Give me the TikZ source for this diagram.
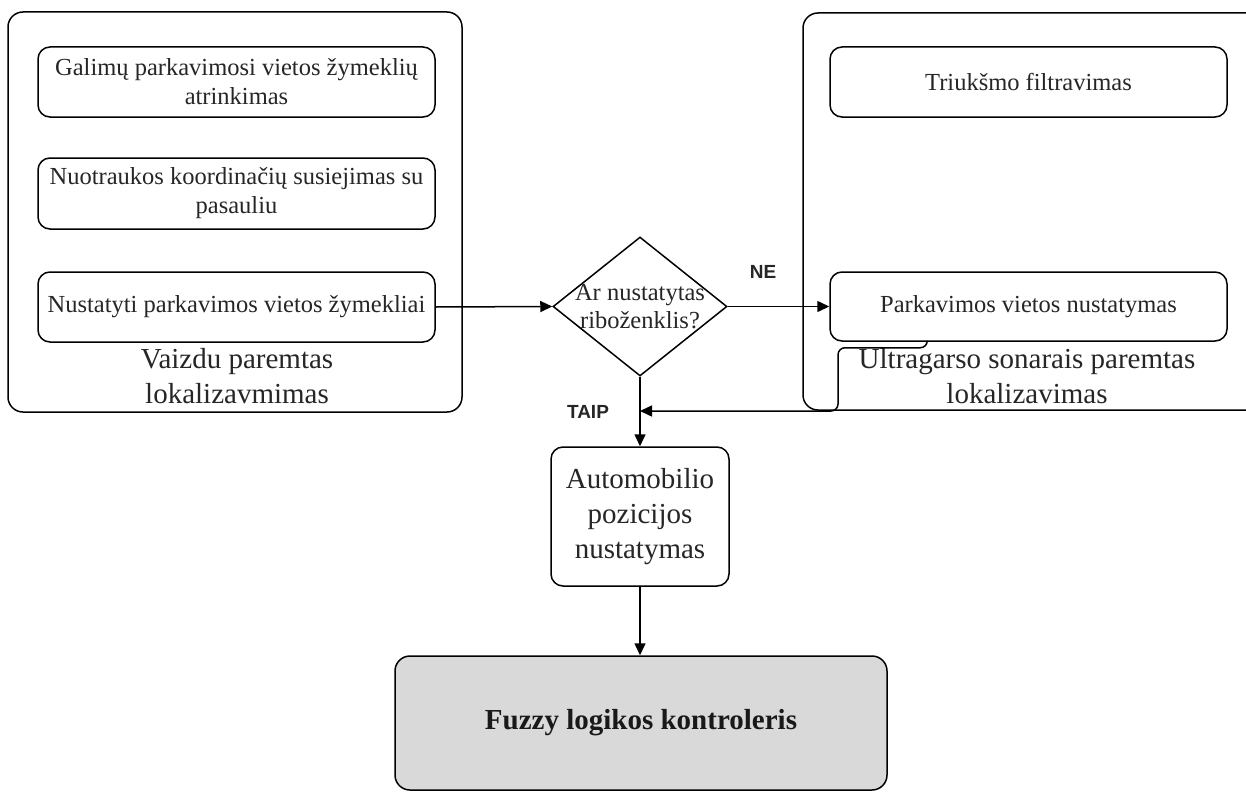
\documentclass[tikz,border=0pt]{standalone}
\usepackage{fontspec}
\setmainfont{Liberation Serif}
\newfontfamily\labfont{Liberation Sans}
\usetikzlibrary{shapes.geometric,arrows.meta,calc}
\definecolor{txt}{HTML}{262626}
\definecolor{fuzzyfill}{HTML}{D9D9D9}
\tikzset{
  box/.style={draw=black, line width=1.5pt, rounded corners=12pt, minimum width=397pt, inner sep=0pt, align=center, text=txt, font=\fontsize{24.5}{29}\selectfont},
  bigtxt/.style={align=center, text=txt, inner sep=0pt, font=\fontsize{29}{35}\selectfont},
  container/.style={draw=black, line width=1.5pt, rounded corners=15pt},
  yn/.style={inner sep=0pt, text=txt, font=\labfont\bfseries\fontsize{19}{23}\selectfont},
  conn/.style={draw=black, line width=1.5pt, -{Triangle[length=12pt,width=11pt]}},
}
\begin{document}
\begin{tikzpicture}[x=1pt,y=-1pt]
\fill[white] (0,0) rectangle (1246,792);
\clip (0,0) rectangle (1246,792);
% containers
\draw[container] (8,12) rectangle (462,412);
\draw[container] (803,13) rectangle (1300,410);
% left boxes
\node[box, minimum height=70pt] (b1) at (236.5,82) {Galimų parkavimosi vietos žymeklių\\atrinkimas};
\node[box, minimum height=71pt] (b2) at (236.5,193.5) {Nuotraukos koordinačių susiejimas su\\pasauliu};
\node[box, minimum height=70pt] (b3) at (236.5,307) {Nustatyti parkavimos vietos žymekliai};
\node[bigtxt] (lv) at (237,376) {Vaizdu paremtas\\lokalizavmimas};
% right boxes
\node[box, minimum height=70pt] (r1) at (1028.5,82) {Triukšmo filtravimas};
\node[box, minimum height=69pt] (r2) at (1028.5,306.5) {Parkavimos vietos nustatymas};
\node[bigtxt] (lu) at (1027,376) {Ultragarso sonarais paremtas\\lokalizavimas};
% decision
\node[diamond, draw=black, line width=1.5pt, minimum width=174pt, minimum height=139pt, inner sep=0pt] (d) at (640,306.5) {};
\node[align=center, text=txt, inner sep=0pt, font=\fontsize{24.5}{28}\selectfont] (dt) at (d.center) {Ar nustatytas\\riboženklis?};
% car position
\node[draw=black, line width=1.5pt, rounded corners=12pt, minimum width=178pt, minimum height=139pt, inner sep=0pt, align=center, text=txt, font=\fontsize{29}{35}\selectfont] (a) at (640,516.5) {Automobilio\\pozicijos\\nustatymas};
% fuzzy
\node[draw=black, line width=1.5pt, rounded corners=15pt, fill=fuzzyfill, minimum width=492pt, minimum height=134pt, inner sep=0pt, font=\bfseries\fontsize{29}{35}\selectfont, text=black!90] (f) at (641,723) {Fuzzy logikos kontroleris};
% labels
\node[yn] (ne) at (763,272) {NE};
\node[yn] (taip) at (588,412) {TAIP};
% connectors
\draw[conn] (b3.east) -- (d.west);
\draw[conn] (d.east) -- (r2.west);
\draw[conn] (d.south) -- (a.north);
\draw[conn] (a.south) -- (f.north -| a.south);
\coordinate (lp) at ([xshift=98pt]r2.south west);
\coordinate (j) at (640,411);
\draw[conn, rounded corners=7pt] (lp) -- ++(0,6) -| (838,411) -- (j);
\end{tikzpicture}
\end{document}
